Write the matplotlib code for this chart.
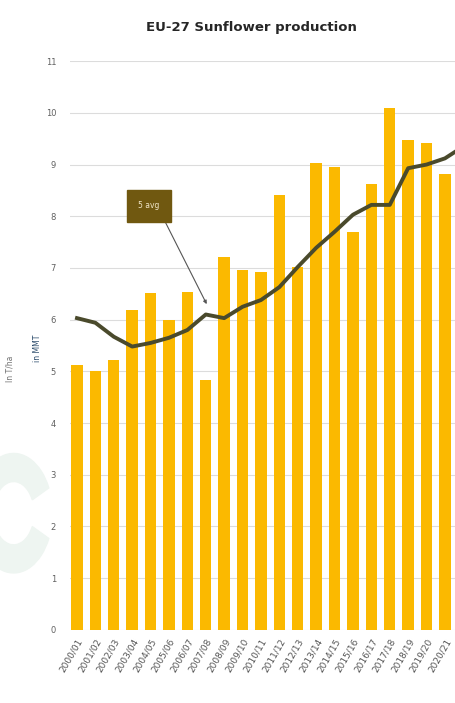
import matplotlib
matplotlib.use("Agg")
from matplotlib import pyplot as plt
from matplotlib.patches import Wedge
import numpy as np

# marketing years shown on the x axis (last one is cut off at the right edge)
years = ["2000/01", "2001/02", "2002/03", "2003/04", "2004/05", "2005/06",
         "2006/07", "2007/08", "2008/09", "2009/10", "2010/11", "2011/12",
         "2012/13", "2013/14", "2014/15", "2015/16", "2016/17", "2017/18",
         "2018/19", "2019/20", "2020/21", "2021/22"]

# production in million metric tonnes
production = [5.13, 5.0, 5.22, 6.19, 6.52, 6.0, 6.54, 4.84, 7.21, 6.96,
              6.93, 8.42, 7.02, 9.03, 8.96, 7.7, 8.62, 10.1, 9.48, 9.42,
              8.82, 9.9]

# 5 year average
avg5 = [6.03, 5.94, 5.67, 5.48, 5.55, 5.65, 5.8, 6.1, 6.03, 6.25,
        6.38, 6.63, 7.02, 7.39, 7.7, 8.03, 8.22, 8.22, 8.93, 9.0,
        9.12, 9.35]

yticks = list(range(0, 12))

fig = plt.figure(figsize=(4.56, 7.03), dpi=100)

# faint logo watermark on the left
logo = Wedge((0.03, 0.27), 0.085, 25, 335, width=0.04, color="#eef5f1",
             transform=fig.transFigure, zorder=0)
fig.patches.append(logo)

ax = fig.add_axes([0.1535, 0.104, 0.8465, 0.809])
ax.patch.set_alpha(0)

x = np.arange(len(years))
ax.bar(x, production, width=0.62, color="#FBB900", zorder=2)
ax.plot(x, avg5, color="#4a4a2c", linewidth=2.8, solid_joinstyle="round",
        zorder=3)

ax.set_yticks(yticks)
ax.set_yticklabels([str(t) for t in yticks], fontsize=6, color="#606060")
ax.tick_params(axis="y", length=0, pad=10)
ax.set_xticks(x)
ax.set_xticklabels(years, rotation=60, ha="right", rotation_mode="anchor",
                   fontsize=6.5, color="#555555")
ax.tick_params(axis="x", length=0, pad=5)
ax.set_xlim(-0.38, 20.6)
ax.set_ylim(0, 11)
ax.grid(axis="y", color="#dcdcdc", linewidth=0.8, zorder=0)
for s in ax.spines.values():
    s.set_visible(False)

ax.set_title("EU-27 Sunflower production", fontsize=9.5, fontweight="bold",
             color="#262626", pad=22, x=0.47)

fig.text(0.083, 0.505, "in MMT", rotation=90, fontsize=5.5, color="#2a4a6a",
         ha="center", va="center")
fig.text(0.022, 0.475, "In T/ha", rotation=90, fontsize=5.5, color="#707070",
         ha="center", va="center")

ax.annotate("5 avg", xy=(7.05, 6.3), xytext=(3.9, 8.2), fontsize=5.5,
            color="#f0e6c8", ha="center", va="center",
            bbox=dict(boxstyle="square,pad=1.5", fc="#705810", ec="#705810"),
            arrowprops=dict(arrowstyle="-|>", color="#555555", lw=0.8,
                            mutation_scale=5, shrinkA=0, shrinkB=0,
                            relpos=(1.0, 0.0)),
            zorder=5)

fig.savefig("out.png", dpi=100)
